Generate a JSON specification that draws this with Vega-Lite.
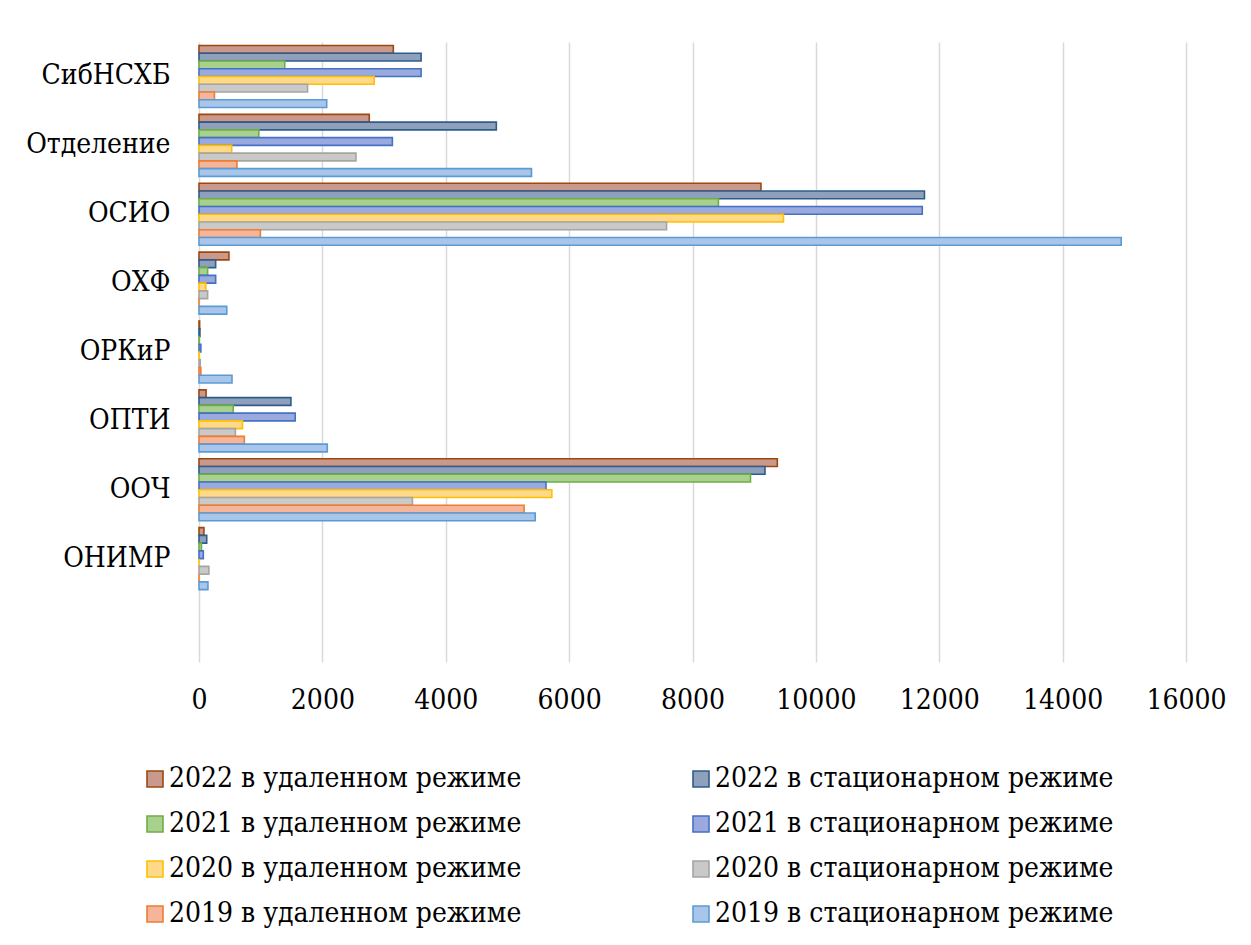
{
  "$schema": "https://vega.github.io/schema/vega-lite/v6.json",
  "width": 987,
  "height": 620,
  "autosize": {"type": "none"},
  "padding": {"left": 199, "top": 42, "right": 65, "bottom": 283},
  "background": "white",
  "config": {
    "view": {"stroke": null}
  },
  "data": {
    "values": [
      {"cat": "СибНСХБ", "series": "2022 в удаленном режиме", "value": 3150},
      {"cat": "СибНСХБ", "series": "2022 в стационарном режиме", "value": 3600},
      {"cat": "СибНСХБ", "series": "2021 в удаленном режиме", "value": 1390},
      {"cat": "СибНСХБ", "series": "2021 в стационарном режиме", "value": 3600},
      {"cat": "СибНСХБ", "series": "2020 в удаленном режиме", "value": 2840},
      {"cat": "СибНСХБ", "series": "2020 в стационарном режиме", "value": 1760},
      {"cat": "СибНСХБ", "series": "2019 в удаленном режиме", "value": 250},
      {"cat": "СибНСХБ", "series": "2019 в стационарном режиме", "value": 2070},
      {"cat": "Отделение", "series": "2022 в удаленном режиме", "value": 2760},
      {"cat": "Отделение", "series": "2022 в стационарном режиме", "value": 4820},
      {"cat": "Отделение", "series": "2021 в удаленном режиме", "value": 970},
      {"cat": "Отделение", "series": "2021 в стационарном режиме", "value": 3135},
      {"cat": "Отделение", "series": "2020 в удаленном режиме", "value": 530},
      {"cat": "Отделение", "series": "2020 в стационарном режиме", "value": 2545},
      {"cat": "Отделение", "series": "2019 в удаленном режиме", "value": 615},
      {"cat": "Отделение", "series": "2019 в стационарном режиме", "value": 5390},
      {"cat": "ОСИО", "series": "2022 в удаленном режиме", "value": 9110},
      {"cat": "ОСИО", "series": "2022 в стационарном режиме", "value": 11760},
      {"cat": "ОСИО", "series": "2021 в удаленном режиме", "value": 8420},
      {"cat": "ОСИО", "series": "2021 в стационарном режиме", "value": 11725},
      {"cat": "ОСИО", "series": "2020 в удаленном режиме", "value": 9475},
      {"cat": "ОСИО", "series": "2020 в стационарном режиме", "value": 7580},
      {"cat": "ОСИО", "series": "2019 в удаленном режиме", "value": 995},
      {"cat": "ОСИО", "series": "2019 в стационарном режиме", "value": 14950},
      {"cat": "ОХФ", "series": "2022 в удаленном режиме", "value": 485},
      {"cat": "ОХФ", "series": "2022 в стационарном режиме", "value": 270},
      {"cat": "ОХФ", "series": "2021 в удаленном режиме", "value": 140},
      {"cat": "ОХФ", "series": "2021 в стационарном режиме", "value": 270},
      {"cat": "ОХФ", "series": "2020 в удаленном режиме", "value": 110},
      {"cat": "ОХФ", "series": "2020 в стационарном режиме", "value": 140},
      {"cat": "ОХФ", "series": "2019 в удаленном режиме", "value": 0},
      {"cat": "ОХФ", "series": "2019 в стационарном режиме", "value": 450},
      {"cat": "ОРКиР", "series": "2022 в удаленном режиме", "value": 10},
      {"cat": "ОРКиР", "series": "2022 в стационарном режиме", "value": 15},
      {"cat": "ОРКиР", "series": "2021 в удаленном режиме", "value": 5},
      {"cat": "ОРКиР", "series": "2021 в стационарном режиме", "value": 30},
      {"cat": "ОРКиР", "series": "2020 в удаленном режиме", "value": 5},
      {"cat": "ОРКиР", "series": "2020 в стационарном режиме", "value": 20},
      {"cat": "ОРКиР", "series": "2019 в удаленном режиме", "value": 30},
      {"cat": "ОРКиР", "series": "2019 в стационарном режиме", "value": 535},
      {"cat": "ОПТИ", "series": "2022 в удаленном режиме", "value": 115},
      {"cat": "ОПТИ", "series": "2022 в стационарном режиме", "value": 1490},
      {"cat": "ОПТИ", "series": "2021 в удаленном режиме", "value": 555},
      {"cat": "ОПТИ", "series": "2021 в стационарном режиме", "value": 1560},
      {"cat": "ОПТИ", "series": "2020 в удаленном режиме", "value": 705},
      {"cat": "ОПТИ", "series": "2020 в стационарном режиме", "value": 590},
      {"cat": "ОПТИ", "series": "2019 в удаленном режиме", "value": 735},
      {"cat": "ОПТИ", "series": "2019 в стационарном режиме", "value": 2080},
      {"cat": "ООЧ", "series": "2022 в удаленном режиме", "value": 9375},
      {"cat": "ООЧ", "series": "2022 в стационарном режиме", "value": 9175},
      {"cat": "ООЧ", "series": "2021 в удаленном режиме", "value": 8940},
      {"cat": "ООЧ", "series": "2021 в стационарном режиме", "value": 5625},
      {"cat": "ООЧ", "series": "2020 в удаленном режиме", "value": 5720},
      {"cat": "ООЧ", "series": "2020 в стационарном режиме", "value": 3460},
      {"cat": "ООЧ", "series": "2019 в удаленном режиме", "value": 5270},
      {"cat": "ООЧ", "series": "2019 в стационарном режиме", "value": 5450},
      {"cat": "ОНИМР", "series": "2022 в удаленном режиме", "value": 80},
      {"cat": "ОНИМР", "series": "2022 в стационарном режиме", "value": 125},
      {"cat": "ОНИМР", "series": "2021 в удаленном режиме", "value": 40},
      {"cat": "ОНИМР", "series": "2021 в стационарном режиме", "value": 70},
      {"cat": "ОНИМР", "series": "2020 в удаленном режиме", "value": 0},
      {"cat": "ОНИМР", "series": "2020 в стационарном режиме", "value": 160},
      {"cat": "ОНИМР", "series": "2019 в удаленном режиме", "value": 0},
      {"cat": "ОНИМР", "series": "2019 в стационарном режиме", "value": 145}
    ]
  },
  "mark": {"type": "bar", "strokeWidth": 1.6},
  "encoding": {
    "y": {
      "field": "cat",
      "type": "nominal",
      "scale": {
        "domain": ["СибНСХБ", "Отделение", "ОСИО", "ОХФ", "ОРКиР", "ОПТИ", "ООЧ", "ОНИМР", " "],
        "paddingInner": 0.1,
        "paddingOuter": 0.05
      },
      "axis": {"title": null, "domain": false, "ticks": false, "labelPadding": 29, "grid": false, "labelFont": "DejaVu Serif Condensed", "labelFontSize": 28, "labelColor": "#000000"}
    },
    "yOffset": {
      "field": "series",
      "type": "nominal",
      "scale": {
        "domain": ["2022 в удаленном режиме", "2022 в стационарном режиме", "2021 в удаленном режиме", "2021 в стационарном режиме", "2020 в удаленном режиме", "2020 в стационарном режиме", "2019 в удаленном режиме", "2019 в стационарном режиме"],
        "paddingInner": 0,
        "paddingOuter": 0
      }
    },
    "x": {
      "field": "value",
      "type": "quantitative",
      "scale": {"domain": [0, 16000], "nice": false},
      "axis": {
        "title": null,
        "values": [0, 2000, 4000, 6000, 8000, 10000, 12000, 14000, 16000],
        "format": "d",
        "domain": false,
        "ticks": false,
        "grid": true,
        "gridColor": "#D9D9D9",
        "gridWidth": 1.5,
        "labelPadding": 24,
        "labelFlush": false,
        "labelFont": "DejaVu Serif Condensed",
        "labelFontSize": 28,
        "labelColor": "#000000"
      }
    },
    "fill": {
      "field": "series",
      "type": "nominal",
      "scale": {
        "domain": ["2022 в удаленном режиме", "2022 в стационарном режиме", "2021 в удаленном режиме", "2021 в стационарном режиме", "2020 в удаленном режиме", "2020 в стационарном режиме", "2019 в удаленном режиме", "2019 в стационарном режиме"],
        "range": ["#C8998C", "#8FA0BD", "#A9D18E", "#9AA9DE", "#FFD98A", "#C9C9C9", "#F5B59A", "#A9C5E9"]
      },
      "legend": {
        "title": null,
        "orient": "none",
        "legendX": -58,
        "legendY": 723,
        "direction": "horizontal",
        "columns": 2,
        "columnPadding": 165,
        "rowPadding": 17,
        "symbolType": "square",
        "symbolSize": 256,
        "symbolStrokeWidth": 1.6,
        "labelOffset": 0,
        "labelLimit": 600,
        "padding": 0,
        "labelFont": "DejaVu Serif Condensed",
        "labelFontSize": 28,
        "labelColor": "#000000"
      }
    },
    "stroke": {
      "field": "series",
      "type": "nominal",
      "scale": {
        "domain": ["2022 в удаленном режиме", "2022 в стационарном режиме", "2021 в удаленном режиме", "2021 в стационарном режиме", "2020 в удаленном режиме", "2020 в стационарном режиме", "2019 в удаленном режиме", "2019 в стационарном режиме"],
        "range": ["#9E480E", "#2F5C8A", "#70AD47", "#4472C4", "#FFC000", "#A5A5A5", "#ED7D31", "#5B9BD5"]
      },
      "legend": {
        "title": null,
        "orient": "none",
        "legendX": -58,
        "legendY": 723,
        "direction": "horizontal",
        "columns": 2,
        "columnPadding": 165,
        "rowPadding": 17,
        "symbolType": "square",
        "symbolSize": 256,
        "symbolStrokeWidth": 1.6,
        "labelOffset": 0,
        "labelLimit": 600,
        "padding": 0,
        "labelFont": "DejaVu Serif Condensed",
        "labelFontSize": 28,
        "labelColor": "#000000"
      }
    }
  }
}
